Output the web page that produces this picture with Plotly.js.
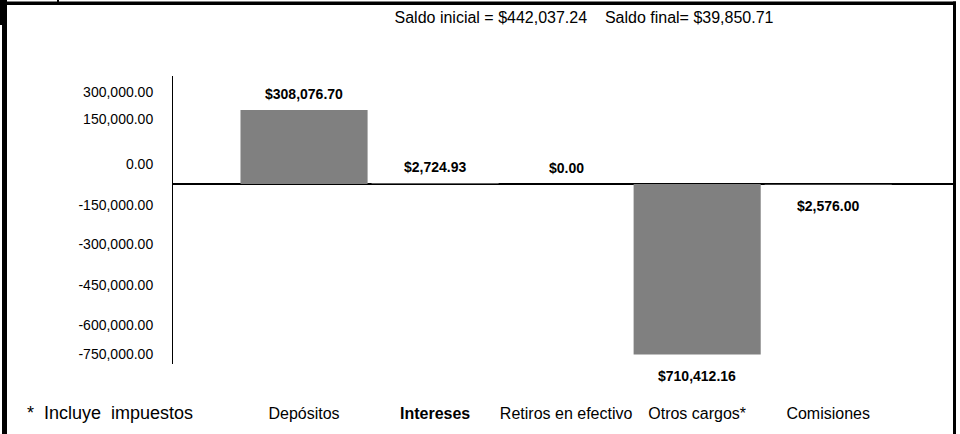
<!DOCTYPE html>
<html>
<head>
<meta charset="utf-8">
<script src="https://cdn.plot.ly/plotly-3.0.1.min.js"></script>
<style>
  html, body { margin: 0; padding: 0; background: #fff; }
  #chart { width: 960px; height: 434px; }
</style>
</head>
<body>
<div id="chart"></div>
<script>
// ---- data ----
const categories = ['Depósitos', 'Intereses', 'Retiros en efectivo', 'Otros cargos*', 'Comisiones'];
const categoryLabels = ['Depósitos', '<b>Intereses</b>', 'Retiros en efectivo', 'Otros cargos*', 'Comisiones'];
const amounts = [308076.70, 2724.93, 0.00, -710412.16, -2576.00];
const amountLabels = ['$308,076.70', '$2,724.93', '$0.00', '$710,412.16', '$2,576.00'];
const yTickLabels = ['300,000.00', '150,000.00', '0.00', '-150,000.00', '-300,000.00', '-450,000.00', '-600,000.00', '-750,000.00'];
const headerText = 'Saldo inicial = $442,037.24    Saldo final= $39,850.71';
const footnoteText = '*  Incluye  impuestos';

// ---- layout helpers ----
const FONT = 'Liberation Sans Narrow, Liberation Sans, Arial, sans-serif';
const L = 173, R = 954, T = 76, B = 364, W = 960, H = 434;
const px = x => (x - L) / (R - L);
const py = y => (B - y) / (B - T);

// tick positions (as placed in the reference, in data units)
const yTickVals = [383000, 271000, 83000, -87500, -250000, -421000, -587500, -708000];

const annotations = categories.map((c, i) => ({
  x: c, y: amounts[i], xref: 'x', yref: 'y',
  text: amountLabels[i], showarrow: false,
  yanchor: 'middle', xanchor: 'center',
  yshift: amounts[i] >= 0 ? 16 : -21,
  font: { family: FONT, size: 14, color: '#000', weight: 'bold' }
}));
annotations.push({
  x: px(25), y: py(413), xref: 'paper', yref: 'paper',
  text: footnoteText, showarrow: false, xanchor: 'left', yanchor: 'middle',
  font: { family: FONT, size: 18, color: '#000' }
});

const shapes = [
  { type: 'rect', xref: 'paper', yref: 'paper', x0: px(2), x1: px(7), y0: py(434), y1: py(0), fillcolor: '#000', line: { width: 0 } },
  { type: 'rect', xref: 'paper', yref: 'paper', x0: px(0), x1: px(7), y0: py(25), y1: py(0), fillcolor: '#000', line: { width: 0 } },
  { type: 'rect', xref: 'paper', yref: 'paper', x0: px(0), x1: px(956), y0: py(5), y1: py(1.5), fillcolor: '#000', line: { width: 0 } },
  { type: 'rect', xref: 'paper', yref: 'paper', x0: px(953), x1: px(956), y0: py(434), y1: py(1.5), fillcolor: '#000', line: { width: 0 } },
  { type: 'line', xref: 'paper', yref: 'paper', x0: px(58), x1: px(58), y0: py(5), y1: py(0), line: { color: '#000', width: 2 } }
];

const trace = {
  type: 'bar',
  x: categories,
  y: amounts,
  marker: { color: '#808080', line: { width: 0 } },
  hoverinfo: 'x+y'
};

const layout = {
  width: W, height: H,
  margin: { l: L, r: W - R, t: T, b: H - B, pad: 0 },
  paper_bgcolor: '#fff', plot_bgcolor: '#fff',
  showlegend: false,
  bargap: 0.03,
  title: {
    text: headerText,
    x: 584 / W, xanchor: 'center', xref: 'container',
    y: 1 - 17 / H, yanchor: 'middle', yref: 'container',
    font: { family: FONT, size: 16, color: '#000' }
  },
  xaxis: {
    type: 'category',
    range: [-1, 4.96],
    tickvals: categories,
    ticktext: categoryLabels,
    tickangle: 0,
    showline: false, showgrid: false, zeroline: false,
    ticks: '', ticklabelstandoff: 38,
    tickfont: { family: FONT, size: 16, color: '#000' },
    fixedrange: true
  },
  yaxis: {
    range: [-750000, 450000],
    tickvals: yTickVals,
    ticktext: yTickLabels,
    showline: true, linecolor: '#000', linewidth: 1,
    showgrid: false,
    zeroline: true, zerolinecolor: '#000', zerolinewidth: 1.5,
    ticks: '', ticklabelstandoff: 16,
    tickfont: { family: FONT, size: 14, color: '#000' },
    fixedrange: true
  },
  annotations: annotations,
  shapes: shapes
};

Plotly.newPlot('chart', [trace], layout, { displayModeBar: false, staticPlot: true });
</script>
</body>
</html>
